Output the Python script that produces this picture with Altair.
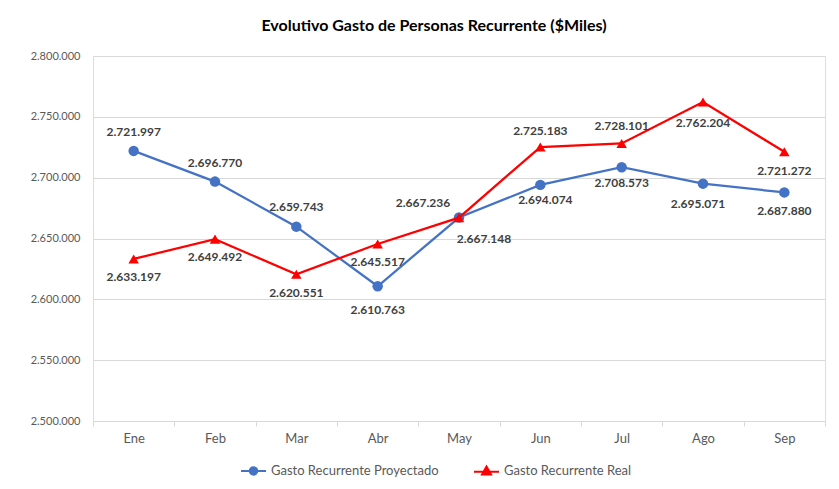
import altair as alt
import pandas as pd

months = ["Ene", "Feb", "Mar", "Abr", "May", "Jun", "Jul", "Ago", "Sep"]
proyectado = [2721997, 2696770, 2659743, 2610763, 2667236, 2694074, 2708573, 2695071, 2687880]
real = [2633197, 2649492, 2620551, 2645517, 2667148, 2725183, 2728101, 2762204, 2721272]
series_names = ["Gasto Recurrente Proyectado", "Gasto Recurrente Real"]
y_ticks = [2500000, 2550000, 2600000, 2650000, 2700000, 2750000, 2800000]

# label offsets (pixels) for data labels
proj_dx = [0, 0, 0, 0, -36, 5, 0, -5, 0]
proj_dy = [-19, -19, -20, 24, -15, 15, 16, 20, 19]
real_dx = [0, 0, 0, 0, 25, 0, 0, 0, 0]
real_dy = [18, 18, 19, 18, 21, -16, -17, 21, 19]

BLUE = "#4472C4"
RED = "#FF0000"
FONT = "Lato"

rows = []
for i, m in enumerate(months):
    rows.append({"month": m, "value": proyectado[i], "series": series_names[0],
                 "dx": proj_dx[i], "dy": proj_dy[i]})
    rows.append({"month": m, "value": real[i], "series": series_names[1],
                 "dx": real_dx[i], "dy": real_dy[i]})
df = pd.DataFrame(rows)

x_enc = alt.X("month:N", sort=months, title=None,
              scale=alt.Scale(paddingInner=0, paddingOuter=0),
              axis=alt.Axis(labelAngle=0, labelFontSize=13, labelColor="#595959",
                            labelFont=FONT, domainColor="#d9d9d9", tickColor="#d9d9d9",
                            tickBand="extent", tickSize=5, labelPadding=6, grid=False))
y_enc = alt.Y("value:Q", title=None,
              scale=alt.Scale(domain=[2500000, 2800000], nice=False, zero=False),
              axis=alt.Axis(values=y_ticks, format=",.0f", labelFontSize=11,
                            labelColor="#595959", labelFont=FONT, domain=False,
                            ticks=False, labelPadding=13, gridColor="#d9d9d9"))

base = alt.Chart(df)

# legend symbols: a line segment plus a marker built of nested strokes (looks filled)
circle_path = ("M-1,0H1"
               "M0.3,0A0.3,0.3,0,1,1,-0.3,0A0.3,0.3,0,1,1,0.3,0Z"
               "M0.16,0A0.16,0.16,0,1,1,-0.16,0A0.16,0.16,0,1,1,0.16,0Z"
               "M0.04,0A0.04,0.04,0,1,1,-0.04,0A0.04,0.04,0,1,1,0.04,0Z")
tri_path = ("M-1,0.06H1"
            "M0,-0.36L0.36,0.28L-0.36,0.28Z"
            "M0,-0.19L0.2,0.19L-0.2,0.19Z"
            "M0,-0.03L0.05,0.1L-0.05,0.1Z")
leg = alt.Legend(title=None, orient="none", direction="horizontal",
                 legendX=147, legendY=401, symbolOpacity=1, symbolSize=625,
                 symbolStrokeWidth=2, labelFontSize=13, labelLimit=0,
                 labelColor="#595959", labelFont=FONT, columnPadding=31, labelOffset=4)
legend_layer = base.mark_point(filled=False, opacity=0, size=625).encode(
    x=x_enc, y=y_enc,
    color=alt.Color("series:N", scale=alt.Scale(domain=series_names, range=[BLUE, RED]), legend=leg),
    shape=alt.Shape("series:N", scale=alt.Scale(domain=series_names, range=[circle_path, tri_path]),
                    legend=leg),
)

layers = [legend_layer]
for name, col, shape in [(series_names[0], BLUE, "circle"), (series_names[1], RED, "triangle-up")]:
    sub = base.transform_filter(alt.datum.series == name)
    layers.append(sub.mark_line(strokeWidth=2.25, color=col).encode(x=x_enc, y=y_enc))
    layers.append(sub.mark_point(filled=True, opacity=1, size=110, shape=shape, color=col)
                  .encode(x=x_enc, y=y_enc))

# data labels, grouped by their pixel offsets
pairs = sorted(set(zip(df["dx"], df["dy"])))
for dx, dy in pairs:
    layers.append(
        base.transform_filter((alt.datum.dx == int(dx)) & (alt.datum.dy == int(dy)))
        .mark_text(fontSize=12, fontWeight="bold", color="#404040", font=FONT,
                   dx=int(dx), dy=int(dy))
        .encode(x=x_enc, y=y_enc, text=alt.Text("value:Q", format=",.0f"))
    )

chart = alt.layer(*layers).properties(
    width=732, height=365,
    autosize=alt.AutoSizeParams(type="none"),
    padding={"left": 85, "top": 48, "right": 6, "bottom": 60},
    title=alt.Title("Evolutivo Gasto de Personas Recurrente ($Miles)", fontSize=16,
                    fontWeight="bold", font=FONT, color="#000000", offset=16, dx=-25),
).configure_view(stroke=None).configure(background="white")

chart.save("out.html", embed_options={"renderer": "svg", "actions": False,
                                      "formatLocale": {"decimal": ",", "thousands": ".",
                                                       "grouping": [3], "currency": ["$", ""]}})
